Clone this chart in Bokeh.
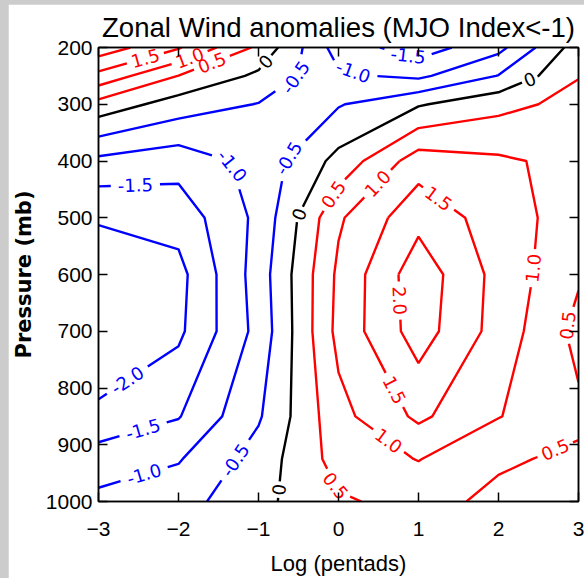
import math
import numpy as np
import contourpy
from bokeh.plotting import figure
from bokeh.layouts import column
from bokeh.models import Range1d, LinearAxis, FixedTicker, ColumnDataSource
from bokeh.embed import file_html
from bokeh.resources import INLINE
from bokeh.core.properties import value

# ---------------- data ----------------
lags = [-3, -2, -1, 0, 1, 2, 3]
pressure = [200, 250, 300, 400, 500, 600, 700, 850, 925, 1000]
u_200 = [2.30, 1.55, 0.40, -1.23, -1.75, -1.15, 0.25]
u_250 = [1.35, 0.49, -0.10, -0.92, -1.10, -0.48, 0.48]
u_300 = [0.32, -0.23, -0.52, -0.54, -0.05, 0.35, 0.65]
u_400 = [-1.12, -1.30, -0.84, 0.16, 1.26, 1.08, 0.85]
u_500 = [-1.97, -1.80, -0.88, 0.93, 1.85, 1.25, 0.74]
u_600 = [-2.20, -2.16, -0.77, 1.10, 2.30, 1.33, 0.56]
u_700 = [-2.20, -2.10, -0.84, 1.15, 2.24, 1.30, 0.35]
u_850 = [-1.95, -1.53, -0.56, 0.84, 1.60, 1.02, 0.60]
u_925 = [-1.21, -1.04, -0.29, 0.70, 1.02, 0.56, 0.42]
u_1000 = [-0.90, -0.70, -0.14, 0.44, 0.65, 0.40, 0.30]

levels = [-2.0, -1.5, -1.0, -0.5, 0.0, 0.5, 1.0, 1.5, 2.0]
x_ticks = [-3, -2, -1, 0, 1, 2, 3]
y_ticks = [200, 300, 400, 500, 600, 700, 800, 900, 1000]

# approximate places of the contour labels (level, lag, pressure)
label_levels = [1.5, 1.0, 0.5, 0.0, -0.5, -1.0, -1.5, 0.0,
                -0.5, -1.5, -1.0, 0.0, 0.5, 1.0, 1.5, 2.0, 1.0, 0.5,
                -2.0, 1.5, -1.5, 1.0, 0.5, -1.0, -0.5, 0.0, 0.5]
label_lags = [-2.43, -1.88, -1.56, -0.94, -0.50, 0.19, 0.875, 2.375,
              -0.675, -2.54, -1.225, -0.475, -0.04, 0.49, 1.35, 0.75, 2.44, 2.88,
              -2.66, 0.69, -2.44, 0.61, 2.71, -2.44, -1.26, -0.75, -0.06]
label_pres = [211, 211, 235, 221, 260, 239, 212, 251,
              388, 440, 404, 495, 461, 440, 447, 646, 589, 690,
              782, 804, 874, 896, 909, 947, 930, 979, 974]

title_text = "Zonal Wind anomalies (MJO Index<-1)"
x_label = "Log (pentads)"
y_label = "Pressure (mb)"

# ---------------- layout constants ----------------
FW, FH = 480, 456
SX = FW / (lags[-1] - lags[0])
SY = FH / (pressure[-1] - pressure[0])
LABEL_FS = 18

Z = np.array([u_200, u_250, u_300, u_400, u_500, u_600, u_700, u_850, u_925, u_1000], dtype=float)
XX, YY = np.meshgrid(np.array(lags, float), np.array(pressure, float))
gen = contourpy.contour_generator(XX, YY, Z, name="serial", line_type="Separate")


def color_for(lev):
    if lev < 0:
        return "#0000ff"
    if lev > 0:
        return "#ff0000"
    return "#000000"


def text_for(lev):
    return "0" if lev == 0 else f"{lev:.1f}"


def to_screen(a):
    return np.column_stack([a[:, 0] * SX, -a[:, 1] * SY])


def interp_at(pts, cum, s):
    s = min(max(s, 0.0), cum[-1])
    i = int(np.searchsorted(cum, s, side="right")) - 1
    i = max(0, min(i, len(pts) - 2))
    seg = cum[i + 1] - cum[i]
    t = 0.0 if seg == 0 else (s - cum[i]) / seg
    return pts[i] + t * (pts[i + 1] - pts[i])


line_xs, line_ys, line_cols = [], [], []
lab_x, lab_y, lab_t, lab_a, lab_c = [], [], [], [], []

for lev in levels:
    lines = [np.asarray(l) for l in gen.lines(lev) if len(l) >= 2]
    scr = [to_screen(l) for l in lines]
    cums = []
    for sp in scr:
        d = np.hypot(np.diff(sp[:, 0]), np.diff(sp[:, 1]))
        cums.append(np.concatenate([[0.0], np.cumsum(d)]))
    gaps = [[] for _ in lines]
    for lv, lx, lp in zip(label_levels, label_lags, label_pres):
        if lv != lev or not lines:
            continue
        a = np.array([lx * SX, -lp * SY])
        best = None
        for k, sp in enumerate(scr):
            for i in range(len(sp) - 1):
                p0, p1 = sp[i], sp[i + 1]
                v = p1 - p0
                L2 = float(v @ v)
                t = 0.0 if L2 == 0 else float(np.clip((a - p0) @ v / L2, 0, 1))
                q = p0 + t * v
                dist = float(np.hypot(*(a - q)))
                if best is None or dist < best[0]:
                    best = (dist, k, cums[k][i] + t * math.sqrt(L2))
        _, k, s0 = best
        txt = text_for(lev)
        h = 0.5 * len(txt) * 0.6 * LABEL_FS + 3
        gaps[k].append((s0 - h, s0 + h))
        c = interp_at(scr[k], cums[k], s0)
        e0 = interp_at(scr[k], cums[k], s0 - h)
        e1 = interp_at(scr[k], cums[k], s0 + h)
        ang = math.atan2(e1[1] - e0[1], e1[0] - e0[0])
        if ang > math.pi / 2:
            ang -= math.pi
        if ang <= -math.pi / 2:
            ang += math.pi
        lab_x.append(c[0] / SX)
        lab_y.append(-c[1] / SY)
        lab_t.append(txt)
        lab_a.append(ang)
        lab_c.append(color_for(lev))
    for k, sp in enumerate(scr):
        cum = cums[k]
        total = cum[-1]
        g = sorted(gaps[k])
        pieces = []
        start = 0.0
        for (ga, gb) in g:
            pieces.append((start, ga))
            start = gb
        pieces.append((start, total))
        for (sa, sb) in pieces:
            sa = max(sa, 0.0)
            sb = min(sb, total)
            if sb - sa < 0.5:
                continue
            pts = [interp_at(sp, cum, sa)]
            for i in range(len(sp)):
                if sa < cum[i] < sb:
                    pts.append(sp[i])
            pts.append(interp_at(sp, cum, sb))
            pts = np.array(pts)
            line_xs.append(list(pts[:, 0] / SX))
            line_ys.append(list(-pts[:, 1] / SY))
            line_cols.append(color_for(lev))

# ---------------- figure ----------------
p = figure(frame_width=FW, frame_height=FH,
           x_range=Range1d(lags[0], lags[-1]),
           y_range=Range1d(pressure[-1], pressure[0]),
           output_backend="svg", toolbar_location=None,
           min_border_left=90, min_border_right=6,
           min_border_top=42, min_border_bottom=76,
           border_fill_color="white", background_fill_color="white")
p.margin = (4, 0, 0, 8)
p.grid.visible = False
p.outline_line_color = "black"
p.outline_line_width = 1.5

p.title.text = title_text
p.title.align = "center"
p.title.text_font = "Liberation Sans"
p.title.text_font_size = "27.6px"
p.title.text_font_style = "normal"
p.title.text_color = "black"

for ax in (p.xaxis[0], p.yaxis[0]):
    ax.major_tick_in = 9
    ax.major_tick_out = 0
    ax.minor_tick_line_color = None
    ax.axis_line_width = 1.5
    ax.major_tick_line_width = 1.5
    ax.major_label_text_font = "Liberation Sans"
    ax.major_label_text_font_size = "21px"
    ax.major_label_text_color = "black"
    ax.axis_label_text_color = "black"

p.xaxis[0].ticker = FixedTicker(ticks=x_ticks)
p.yaxis[0].ticker = FixedTicker(ticks=y_ticks)
p.xaxis[0].major_label_standoff = 20
p.yaxis[0].major_label_standoff = 6
p.xaxis[0].axis_label = x_label
p.xaxis[0].axis_label_text_font = "Liberation Sans"
p.xaxis[0].axis_label_text_font_size = "22px"
p.xaxis[0].axis_label_text_font_style = "normal"
p.xaxis[0].axis_label_standoff = 12
p.yaxis[0].axis_label = y_label
p.yaxis[0].axis_label_text_font = "DejaVu Sans"
p.yaxis[0].axis_label_text_font_size = "21px"
p.yaxis[0].axis_label_text_font_style = "bold"
p.yaxis[0].axis_label_standoff = 7

top = LinearAxis(ticker=FixedTicker(ticks=x_ticks), major_tick_in=9, major_tick_out=0,
                 minor_tick_line_color=None, major_label_text_font_size="0px",
                 major_label_text_color=None,
                 major_label_standoff=0, axis_line_width=1.5, major_tick_line_width=1.5)
right = LinearAxis(ticker=FixedTicker(ticks=y_ticks), major_tick_in=9, major_tick_out=0,
                   minor_tick_line_color=None, major_label_text_font_size="0px",
                   major_label_text_color=None,
                   major_label_standoff=0, axis_line_width=1.5, major_tick_line_width=1.5)
p.add_layout(top, "above")
p.add_layout(right, "right")

src_lines = ColumnDataSource(dict(xs=line_xs, ys=line_ys, color=line_cols))
p.multi_line(xs="xs", ys="ys", line_color="color", line_width=2.4, source=src_lines)

src_lab = ColumnDataSource(dict(x=lab_x, y=lab_y, text=lab_t, angle=lab_a, color=lab_c))
p.text(x="x", y="y", text="text", angle="angle", text_color="color", source=src_lab,
       text_font=value("DejaVu Sans"), text_font_size=value(f"{LABEL_FS}px"),
       text_align="center", text_baseline="middle")

layout = column(p, styles={"background-color": "#cccccc"}, width=584, height=578)

open("out.html", "w").write(file_html(layout, INLINE))
